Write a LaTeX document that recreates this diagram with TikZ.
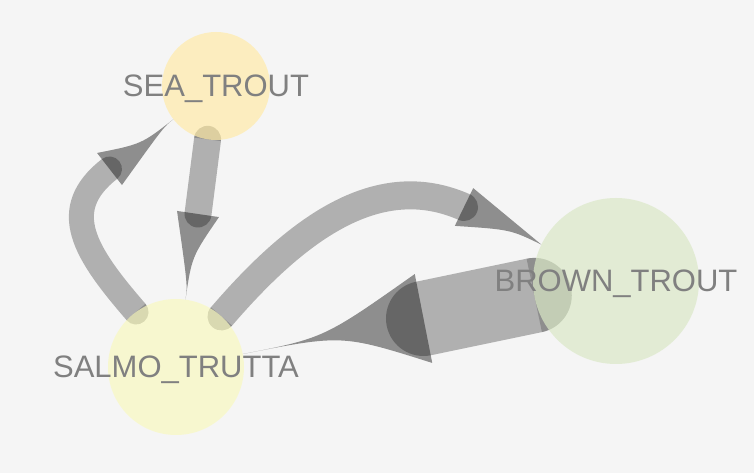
\documentclass[tikz,border=0pt]{standalone}
\usepackage{fontspec}
\setmainfont{Liberation Sans}
\usetikzlibrary{calc}
\definecolor{bggray}{RGB}{245,245,245}
\definecolor{seafill}{RGB}{255,235,169}
\definecolor{salmofill}{RGB}{249,249,192}
\definecolor{brownfill}{RGB}{218,232,198}
\definecolor{labelgray}{RGB}{128,128,128}
\pgfdeclarelayer{bg}
\pgfdeclarelayer{edges}
\pgfsetlayers{bg,edges,main}

\begin{document}
\begin{tikzpicture}[x=1pt,y=1pt,
        fish/.style={circle,inner sep=0pt,outer sep=0pt,fill opacity=0.7},
        fishlabel/.style={text=labelgray,font=\fontsize{31}{37}\selectfont,anchor=base,inner sep=0pt},
        band/.style={draw=black,draw opacity=0.28,line cap=round},
        headfill/.style={fill=black,fill opacity=0.42},
        capfill/.style={fill=black,fill opacity=0.194}]
        % background
        \begin{pgfonlayer}{bg}
        \fill[bggray] (0,0) rectangle (754,473);
        \end{pgfonlayer}
        \useasboundingbox (0,0) rectangle (754,473);
        % draw the nodes
        \node[fish,fill=seafill,minimum size=108pt] (sea) at (216,387) {};
        \node[fish,fill=salmofill,minimum size=136pt] (salmo) at (176,106) {};
        \node[fish,fill=brownfill,minimum size=166pt] (brown) at (616,192) {};
        % draw the edges below the nodes
        \begin{pgfonlayer}{edges}
        \coordinate (aS) at (salmo.126);
        \coordinate (aM) at (109.5,304);
        \coordinate (aT) at (sea.218);
        \coordinate (bS) at (sea.261);
        \coordinate (bM) at (198,259);
        \coordinate (bT) at (salmo.82);
        \coordinate (cS) at (salmo.48);
        \coordinate (cM) at (464,266);
        \coordinate (cT) at (brown.154);
        \coordinate (dS) at (brown.190);
        \coordinate (dM) at (423.5,154.5);
        \coordinate (dT) at (salmo.11);
        \draw[band,line width=25pt] (aS) .. controls (85,220) and (57,263) .. (aM);
        \draw[band,line width=27pt] (bS) -- (bM);
        \draw[band,line width=28pt] (cS) .. controls (300,248) and (380,303) .. (cM);
        \draw[band,line width=75pt] (dS) -- (dM);
        % start caps
        \foreach \s/\a/\r in {aS/220.8/12.5,bS/-7.3/13.5,cS/139.4/14,dS/-78.2/37.5}
        \fill[capfill] (\s) ++(\a:\r pt) arc[start angle=\a,delta angle=180,radius=\r pt] -- cycle;
        % arrow heads
        \foreach \m/\t/\h/\fa/\fb in {aM/aT/20.3/0.5/0.85,bM/bT/21.2/0.5/0.83,cM/cT/21/1/0.6,dM/dT/45.3/0.45/0.55}
        \fill[headfill] ($(\m)!\h pt!90:(\t)$) .. controls ($(\m)!\fa!(\t)$) .. (\t)
            .. controls ($(\m)!\fb!(\t)$) .. ($(\m)!\h pt!-90:(\t)$) -- cycle;
        \end{pgfonlayer}
        % labels
        \node[fishlabel] at ([yshift=-11pt]sea.center) {SEA\_TROUT};
        \node[fishlabel] at ([yshift=-11pt]salmo.center) {SALMO\_TRUTTA};
        \node[fishlabel] at ([yshift=-11pt]brown.center) {BROWN\_TROUT};
\end{tikzpicture}
\end{document}
